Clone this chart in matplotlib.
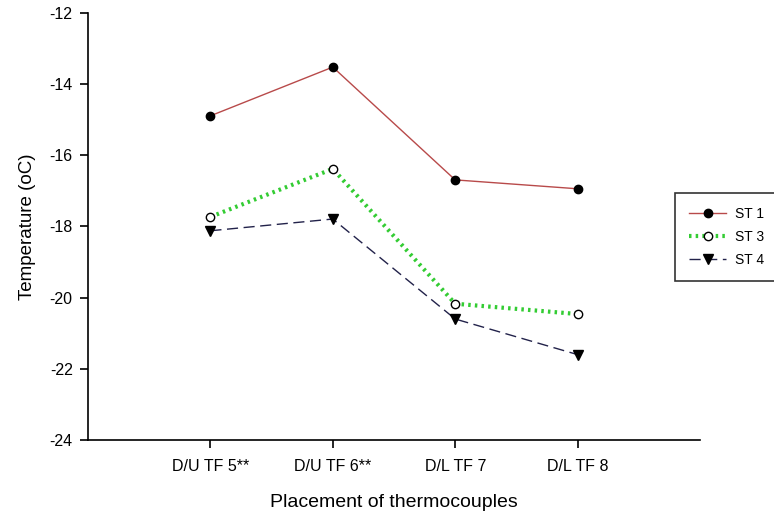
import numpy as np
import matplotlib.pyplot as plt
import matplotlib

matplotlib.rc('font', family='Liberation Sans', size=11)
matplotlib.rcParams['axes.unicode_minus'] = False

placements = ['D/U TF 5**', 'D/U TF 6**', 'D/L TF 7', 'D/L TF 8']
st1 = [-14.89, -13.52, -16.69, -16.94]
st3 = [-17.73, -16.38, -20.17, -20.46]
st4 = [-18.12, -17.79, -20.60, -21.60]

x = np.arange(1, len(placements) + 1)

fig = plt.figure(figsize=(7.74, 5.17), dpi=100)
ax = fig.add_axes([88/774, 77/517, 612/774, 427/517])

ax.plot(x, st1, color='#b84a4a', linewidth=1.0, marker='o', markersize=6,
        markerfacecolor='black', markeredgecolor='black', label='ST 1')
ax.plot(x, st3, color='#33cc33', linewidth=3.0, linestyle=(0, (0.6, 1.0)), marker='o',
        markersize=6, markerfacecolor='white', markeredgecolor='black', label='ST 3')
ax.plot(x, st4, color='#22224a', linewidth=1.0, linestyle=(0, (8, 4)), marker='v',
        markersize=6.5, markerfacecolor='black', markeredgecolor='black', label='ST 4')

ax.set_xlim(0, 5)
ax.set_ylim(-24, -12)
ax.set_yticks(np.arange(-24, -11, 2))
ax.set_xticks(x)
ax.set_xticklabels(placements)
ax.spines['top'].set_visible(False)
ax.spines['right'].set_visible(False)
ax.tick_params(direction='out', length=6, width=1.2, labelsize=11.5)
ax.tick_params(axis='x', pad=8)
ax.tick_params(axis='y', pad=5)
for s in ['left', 'bottom']:
    ax.spines[s].set_linewidth(1.2)

ax.set_xlabel('Placement of thermocouples', fontsize=14, labelpad=14)
ax.set_ylabel('Temperature (oC)', fontsize=13.5, labelpad=10)

leg = ax.legend(loc='upper left', bbox_to_anchor=(675/774, 1 - 193/517),
                bbox_transform=fig.transFigure, frameon=True, fancybox=False,
                edgecolor='black', fontsize=10, handlelength=2.7, handletextpad=0.6,
                borderpad=1.0, labelspacing=0.65, borderaxespad=0)
leg.get_frame().set_linewidth(1.2)

fig.savefig('out.png', dpi=100)
